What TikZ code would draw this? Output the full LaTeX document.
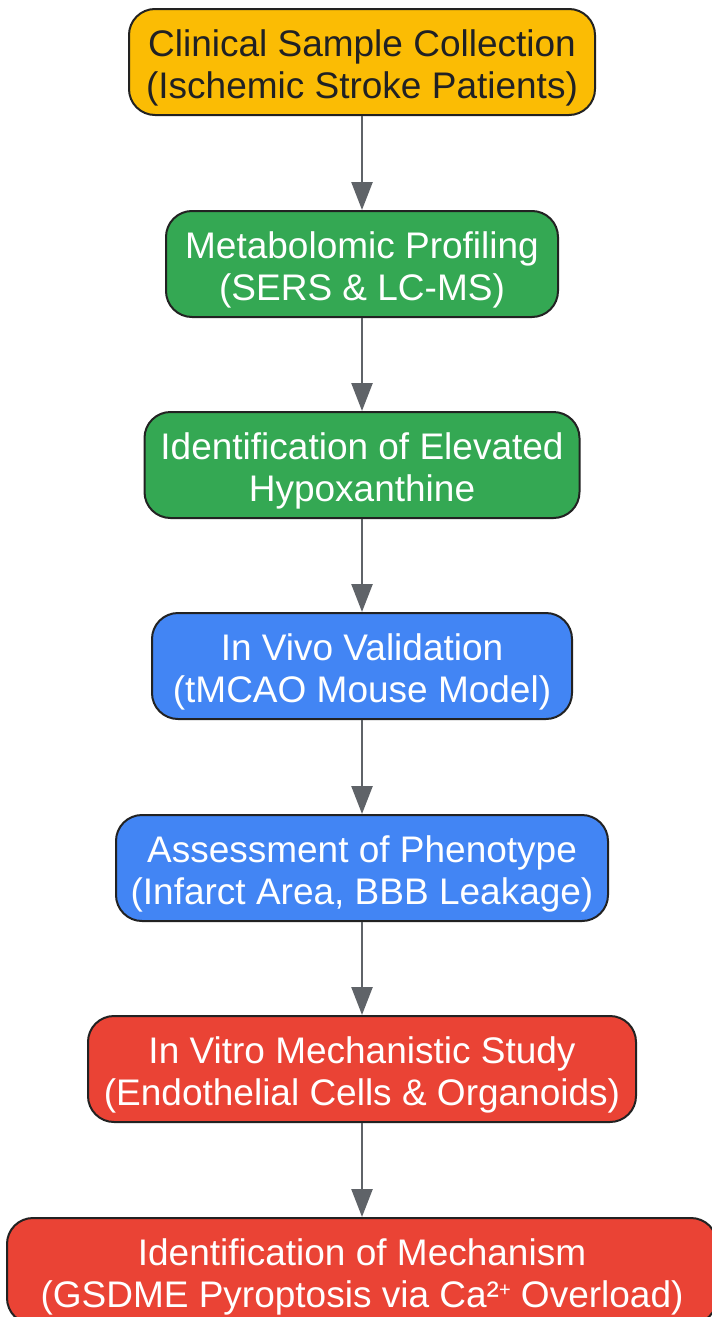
\documentclass[tikz,border=0pt]{standalone}
\usepackage{fontspec}
\setmainfont{Liberation Sans}
\usetikzlibrary{arrows.meta}
\definecolor{cyel}{HTML}{FBBC04}
\definecolor{cgrn}{HTML}{34A853}
\definecolor{cblu}{HTML}{4285F4}
\definecolor{cred}{HTML}{EA4335}
\definecolor{cdark}{HTML}{202124}
\definecolor{cedge}{HTML}{222222}
\definecolor{carrow}{HTML}{5F6368}
\newcommand{\supplus}{\raisebox{11pt}{\fontsize{20}{20}\selectfont +}}
\newcommand{\twolines}[2]{\raisebox{-7.5pt}[\height][\depth]{\begin{tabular}{@{}c@{}}#1\\#2\end{tabular}}}
\tikzset{
  box/.style={draw=cedge, line width=2pt, rounded corners=26pt, minimum height=106pt,
    align=center, font=\fontsize{37}{42}\selectfont, text=white, inner sep=0pt},
  flow/.style={draw=carrow, line width=2.5pt, -{Triangle[length=28pt,width=21pt]}}
}
\begin{document}
\begin{tikzpicture}[x=1pt,y=-1pt]
\useasboundingbox (0,0) rectangle (712,1317);
\node[box, fill=cyel, text=cdark, minimum width=466pt] (n1) at (362,62) {\twolines{Clinical Sample Collection}{(Ischemic Stroke Patients)}};
\node[box, fill=cgrn, minimum width=392pt] (n2) at (362,264) {\twolines{Metabolomic Profiling}{(SERS \& LC-MS)}};
\node[box, fill=cgrn, minimum width=435pt] (n3) at (362,465) {\twolines{Identification of Elevated}{Hypoxanthine}};
\node[box, fill=cblu, minimum width=420pt] (n4) at (362,666) {\twolines{In Vivo Validation}{(tMCAO Mouse Model)}};
\node[box, fill=cblu, minimum width=492pt] (n5) at (362,868) {\twolines{Assessment of Phenotype}{(Infarct Area, BBB Leakage)}};
\node[box, fill=cred, minimum width=548pt] (n6) at (362,1069) {\twolines{In Vitro Mechanistic Study}{(Endothelial Cells \& Organoids)}};
\node[box, fill=cred, minimum width=710pt] (n7) at (362,1271) {\twolines{Identification of Mechanism}{(GSDME Pyroptosis via Ca²\supplus{} Overload)}};
\draw[flow] (n1) -- (n2);
\draw[flow] (n2) -- (n3);
\draw[flow] (n3) -- (n4);
\draw[flow] (n4) -- (n5);
\draw[flow] (n5) -- (n6);
\draw[flow] (n6) -- (n7);
\end{tikzpicture}
\end{document}
